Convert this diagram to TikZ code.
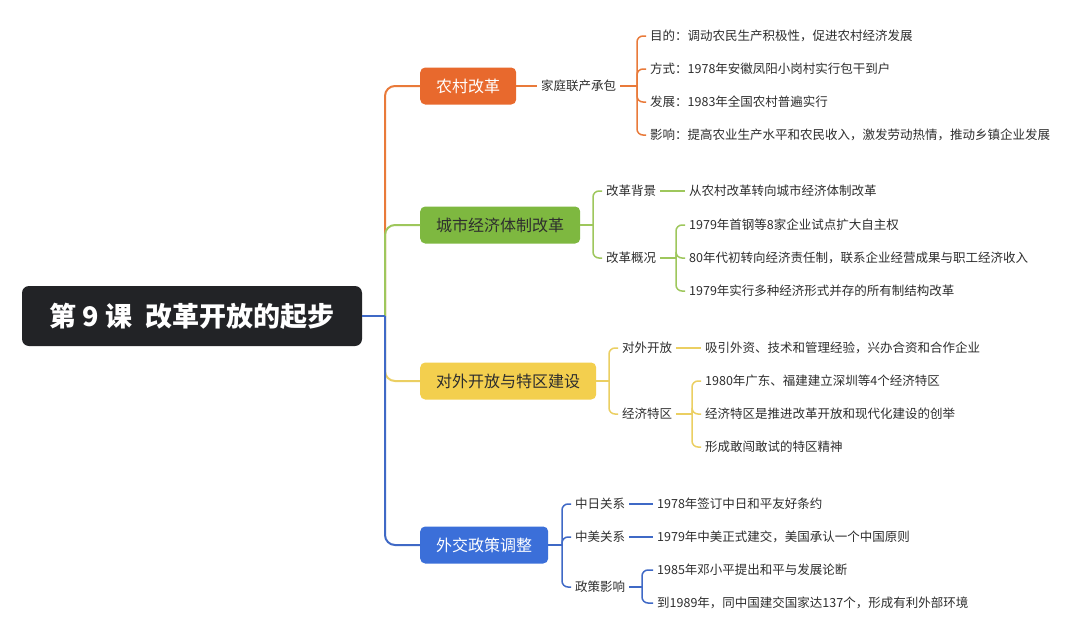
\documentclass[tikz,border=0pt]{standalone}
\usepackage{fontspec}
\setmainfont{Noto Sans CJK SC}
\definecolor{rootc}{HTML}{222326}
\definecolor{onode}{HTML}{E8692D}
\definecolor{gnode}{HTML}{7EB840}
\definecolor{ynode}{HTML}{F3CF4E}
\definecolor{bnode}{HTML}{3B6FD9}
\definecolor{oline}{HTML}{E97A3A}
\definecolor{gline}{HTML}{9EC75C}
\definecolor{yline}{HTML}{EBCF62}
\definecolor{bline}{HTML}{3F69C6}
\definecolor{txt}{HTML}{2E2E2E}
\begin{document}
\begin{tikzpicture}[x=1pt,y=-1pt,
  rootbox/.style={fill=rootc, rounded corners=7pt, minimum width=340pt, minimum height=60pt, text=white, font=\fontsize{27}{30}\selectfont\bfseries},
  lone/.style={rounded corners=5pt, minimum height=37pt, inner xsep=16pt, anchor=west, font=\fontsize{16}{18}\selectfont},
  tx/.style={anchor=west, inner xsep=4pt, inner ysep=2pt, text=txt, font=\fontsize{12.5}{15}\selectfont},
  trunk/.style={line width=2pt, rounded corners=10pt},
  oc/.style={draw=oline, line width=1.5pt, rounded corners=6pt},
  gc/.style={draw=gline, line width=1.5pt, rounded corners=6pt},
  yc/.style={draw=yline, line width=1.5pt, rounded corners=6pt},
  bc/.style={draw=bline, line width=1.5pt, rounded corners=6pt}]
\useasboundingbox[fill=white] (0,0) rectangle (1080,640);

% root
\node[rootbox] (root) at (192,316) {第 9 课\hspace{0.5em}改革开放的起步};
\coordinate (hub) at (385,316);

% level 1
\node[lone, fill=onode, text=white] (n1) at (420,86) {农村改革};
\node[lone, fill=gnode, text=txt] (n2) at (420,225) {城市经济体制改革};
\node[lone, fill=ynode, text=txt] (n3) at (420,381) {对外开放与特区建设};
\node[lone, fill=bnode, text=white] (n4) at (420,545) {外交政策调整};

% trunk connectors
\draw[trunk, draw=oline] (hub) |- (n1.west);
\draw[trunk, draw=yline] (hub) |- (n3.west);
\draw[trunk, draw=gline] (hub) |- (n2.west);
\draw[trunk, draw=bline] (hub) |- (n4.west);
\draw[line width=2pt, draw=bline] (root.east) -- (hub);

% ---------- orange ----------
\node[tx] (fam) at (537,86) {家庭联产承包};
\node[tx] (o1) at (646,36) {目的：调动农民生产积极性，促进农村经济发展};
\node[tx] (o2) at (646,69) {方式：1978年安徽凤阳小岗村实行包干到户};
\node[tx] (o3) at (646,102) {发展：1983年全国农村普遍实行};
\node[tx] (o4) at (646,135) {影响：提高农业生产水平和农民收入，激发劳动热情，推动乡镇企业发展};
\coordinate (ob) at (637,86);
\draw[oc] (n1.east) -- (fam.west);
\draw[oc] (fam.east) -- (ob);
\foreach \l in {o1,o2,o3,o4} \draw[oc] (ob) |- (\l.west);

% ---------- green ----------
\coordinate (gb) at (593,225);
\node[tx] (bg) at (602,191) {改革背景};
\node[tx] (gk) at (602,258) {改革概况};
\node[tx] (g0) at (685,191) {从农村改革转向城市经济体制改革};
\node[tx] (g1) at (685,225) {1979年首钢等8家企业试点扩大自主权};
\node[tx] (g2) at (685,258) {80年代初转向经济责任制，联系企业经营成果与职工经济收入};
\node[tx] (g3) at (685,291) {1979年实行多种经济形式并存的所有制结构改革};
\draw[gc] (n2.east) -- (gb);
\draw[gc] (gb) |- (bg.west);
\draw[gc] (gb) |- (gk.west);
\draw[gc] (bg.east) -- (g0.west);
\coordinate (gkb) at (676,258);
\draw[gc] (gk.east) -- (gkb);
\foreach \l in {g1,g2,g3} \draw[gc] (gkb) |- (\l.west);

% ---------- yellow ----------
\coordinate (yb) at (609,381);
\node[tx] (kf) at (618,348) {对外开放};
\node[tx] (tq) at (618,414) {经济特区};
\node[tx] (y0) at (701,348) {吸引外资、技术和管理经验，兴办合资和合作企业};
\node[tx] (y1) at (701,381) {1980年广东、福建建立深圳等4个经济特区};
\node[tx] (y2) at (701,414) {经济特区是推进改革开放和现代化建设的创举};
\node[tx] (y3) at (701,447) {形成敢闯敢试的特区精神};
\draw[yc] (n3.east) -- (yb);
\draw[yc] (yb) |- (kf.west);
\draw[yc] (yb) |- (tq.west);
\draw[yc] (kf.east) -- (y0.west);
\coordinate (tqb) at (692,414);
\draw[yc] (tq.east) -- (tqb);
\foreach \l in {y1,y2,y3} \draw[yc] (tqb) |- (\l.west);

% ---------- blue ----------
\coordinate (bb) at (562,545);
\node[tx] (zr) at (571,504) {中日关系};
\node[tx] (zm) at (571,537) {中美关系};
\node[tx] (zc) at (571,587) {政策影响};
\node[tx] (b1) at (653,504) {1978年签订中日和平友好条约};
\node[tx] (b2) at (653,537) {1979年中美正式建交，美国承认一个中国原则};
\node[tx] (b3) at (653,570) {1985年邓小平提出和平与发展论断};
\node[tx] (b4) at (653,603) {到1989年，同中国建交国家达137个，形成有利外部环境};
\draw[bc] (n4.east) -- (bb);
\foreach \l in {zr,zm,zc} \draw[bc] (bb) |- (\l.west);
\draw[bc] (zr.east) -- (b1.west);
\draw[bc] (zm.east) -- (b2.west);
\coordinate (zcb) at (642,587);
\draw[bc] (zc.east) -- (zcb);
\foreach \l in {b3,b4} \draw[bc] (zcb) |- (\l.west);
\end{tikzpicture}
\end{document}
